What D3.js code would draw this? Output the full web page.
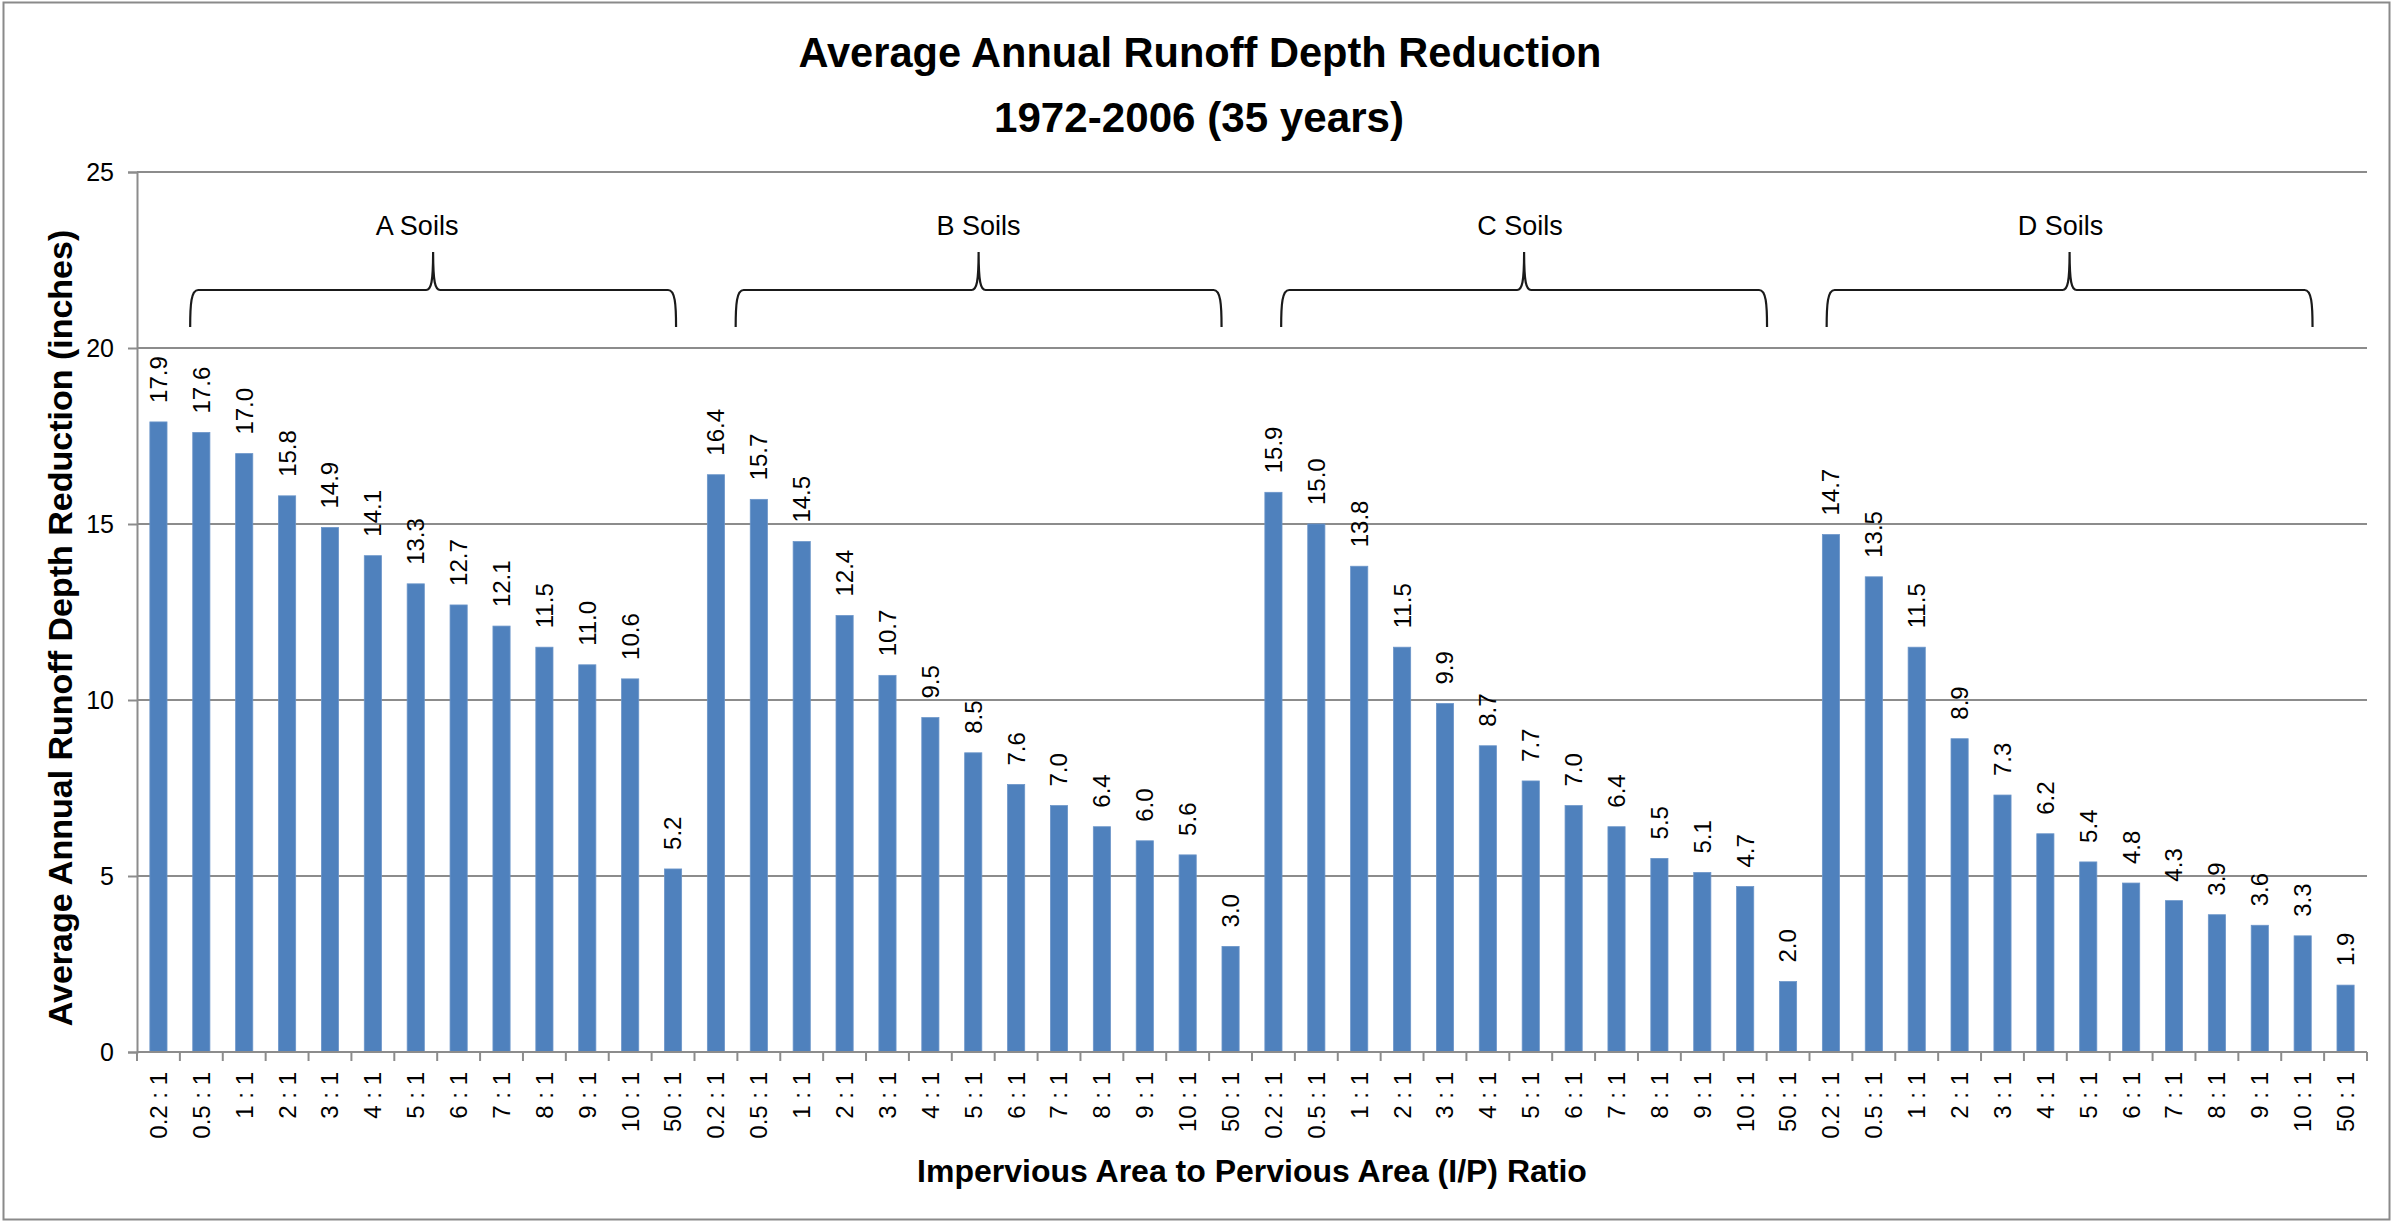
<!DOCTYPE html>
<html>
<head>
<meta charset="utf-8">
<script src="https://cdn.jsdelivr.net/npm/d3@7"></script>
<style>
  html, body { margin: 0; padding: 0; background: #fff; }
  svg { display: block; }
  text { font-family: "Liberation Sans", Arial, sans-serif; fill: #000; }
</style>
</head>
<body>
<svg id="chart" width="2394" height="1222"></svg>
<script>
// ---------------- data ----------------
const ratioLabels = ["0.2 : 1", "0.5 : 1", "1 : 1", "2 : 1", "3 : 1", "4 : 1", "5 : 1",
                     "6 : 1", "7 : 1", "8 : 1", "9 : 1", "10 : 1", "50 : 1"];
const soilGroups = ["A Soils", "B Soils", "C Soils", "D Soils"];
const soilA = [17.9, 17.6, 17.0, 15.8, 14.9, 14.1, 13.3, 12.7, 12.1, 11.5, 11.0, 10.6, 5.2];
const soilB = [16.4, 15.7, 14.5, 12.4, 10.7, 9.5, 8.5, 7.6, 7.0, 6.4, 6.0, 5.6, 3.0];
const soilC = [15.9, 15.0, 13.8, 11.5, 9.9, 8.7, 7.7, 7.0, 6.4, 5.5, 5.1, 4.7, 2.0];
const soilD = [14.7, 13.5, 11.5, 8.9, 7.3, 6.2, 5.4, 4.8, 4.3, 3.9, 3.6, 3.3, 1.9];
const yTicks = [0, 5, 10, 15, 20, 25];
const titleLines = ["Average Annual Runoff Depth Reduction", "1972-2006 (35 years)"];
const xTitle = "Impervious Area to Pervious Area (I/P) Ratio";
const yTitle = "Average Annual Runoff Depth Reduction (inches)";

// build flat table
const seriesValues = [soilA, soilB, soilC, soilD];
const rows = [];
seriesValues.forEach((vals, g) => {
  vals.forEach((v, i) => rows.push({ key: g + "|" + i, group: g, label: ratioLabels[i], value: v }));
});

// ---------------- layout ----------------
const W = 2394, H = 1222;
const plot = { left: 137, right: 2367, top: 172, bottom: 1052 };
const svg = d3.select("#chart");

svg.append("rect").attr("x", 0).attr("y", 0).attr("width", W).attr("height", H).attr("fill", "#fff");
svg.append("rect").attr("x", 3.5).attr("y", 2.5).attr("width", 2386).attr("height", 1217)
  .attr("fill", "none").attr("stroke", "#8a8a8a").attr("stroke-width", 2);

const x = d3.scaleBand().domain(rows.map(d => d.key))
  .range([plot.left, plot.right]).paddingInner(0.6).paddingOuter(0.3);
const y = d3.scaleLinear().domain([0, 25]).range([plot.bottom, plot.top]);
const step = x.step();

// gridlines
svg.append("g").selectAll("line").data(yTicks.filter(t => t > 0)).join("line")
  .attr("x1", plot.left).attr("x2", plot.right)
  .attr("y1", d => y(d)).attr("y2", d => y(d))
  .attr("stroke", "#8c8c8c").attr("stroke-width", 2);

// y axis
const yAxis = d3.axisLeft(y).tickValues(yTicks).tickSize(9).tickPadding(14).tickFormat(d3.format("d"));
const gy = svg.append("g").attr("transform", `translate(${plot.left},0)`).call(yAxis);
gy.select(".domain").attr("stroke", "#8c8c8c").attr("stroke-width", 2);
gy.selectAll(".tick line").attr("stroke", "#8c8c8c").attr("stroke-width", 2);
gy.selectAll(".tick text").attr("font-size", 25).attr("font-family", "'Liberation Sans', Arial, sans-serif").attr("fill", "#000");

// bars
svg.append("g").selectAll("rect").data(rows).join("rect")
  .attr("x", d => x(d.key)).attr("width", x.bandwidth())
  .attr("y", d => y(d.value)).attr("height", d => y(0) - y(d.value))
  .attr("fill", "#4F81BD").attr("stroke", "#6b95c9").attr("stroke-width", 0.8);

// value labels
svg.append("g").selectAll("text").data(rows).join("text")
  .attr("transform", d => `translate(${x(d.key) + x.bandwidth() / 2},${y(d.value) - 19}) rotate(-90)`)
  .attr("dy", "0.35em").attr("text-anchor", "start").attr("font-size", 24)
  .text(d => d3.format(".1f")(d.value));

// x axis (labels at band centres, ticks at band boundaries as in Excel)
const xAxis = d3.axisBottom(x).tickSize(0).tickPadding(0).tickFormat(k => rows.find(r => r.key === k).label);
const gx = svg.append("g").attr("transform", `translate(0,${plot.bottom})`).call(xAxis);
gx.select(".domain").remove();
gx.selectAll(".tick text")
  .attr("font-size", 24).attr("font-family", "'Liberation Sans', Arial, sans-serif").attr("fill", "#000")
  .attr("text-anchor", "end").attr("transform", "translate(0,20) rotate(-90)")
  .attr("x", 0).attr("y", 0).attr("dy", "0.35em");
svg.append("line").attr("x1", plot.left).attr("x2", plot.right)
  .attr("y1", plot.bottom).attr("y2", plot.bottom).attr("stroke", "#8c8c8c").attr("stroke-width", 2);
svg.append("g").selectAll("line").data(d3.range(rows.length + 1)).join("line")
  .attr("x1", i => plot.left + i * step).attr("x2", i => plot.left + i * step)
  .attr("y1", plot.bottom).attr("y2", plot.bottom + 9)
  .attr("stroke", "#8c8c8c").attr("stroke-width", 2);

// braces + group labels
const braceY = 290, braceBottom = 327, braceTop = 252;
const labelShift = [-16, 0, -4, -9];
soilGroups.forEach((name, g) => {
  const x0 = plot.left + (1.24 + g * 12.72) * step;
  const x1 = plot.left + (12.57 + g * 12.72) * step;
  const xm = (x0 + x1) / 2;
  const p = d3.path();
  p.moveTo(x0, braceBottom);
  p.bezierCurveTo(x0, braceY + 14, x0 + 1, braceY, x0 + 8, braceY);
  p.lineTo(xm - 7, braceY);
  p.bezierCurveTo(xm - 2, braceY, xm, braceY - 8, xm, braceTop);
  p.bezierCurveTo(xm, braceY - 8, xm + 2, braceY, xm + 7, braceY);
  p.lineTo(x1 - 8, braceY);
  p.bezierCurveTo(x1 - 1, braceY, x1, braceY + 14, x1, braceBottom);
  svg.append("path").attr("d", p.toString()).attr("fill", "none")
    .attr("stroke", "#1a1a1a").attr("stroke-width", 2.2);
  svg.append("text").attr("x", xm + labelShift[g]).attr("y", 235)
    .attr("text-anchor", "middle").attr("font-size", 27).text(name);
});

// titles
svg.append("text").attr("x", 1200).attr("y", 67).attr("text-anchor", "middle")
  .attr("font-size", 43).attr("font-weight", "bold")
  .attr("textLength", 803).attr("lengthAdjust", "spacingAndGlyphs").text(titleLines[0]);
svg.append("text").attr("x", 1199).attr("y", 132).attr("text-anchor", "middle")
  .attr("font-size", 43).attr("font-weight", "bold")
  .attr("textLength", 410).attr("lengthAdjust", "spacingAndGlyphs").text(titleLines[1]);

svg.append("text").attr("x", (plot.left + plot.right) / 2).attr("y", 1182)
  .attr("text-anchor", "middle").attr("font-size", 32).attr("font-weight", "bold").text(xTitle);

svg.append("text").attr("transform", `translate(60,628) rotate(-90)`)
  .attr("dy", "0.35em").attr("text-anchor", "middle")
  .attr("font-size", 34).attr("font-weight", "bold").text(yTitle);
</script>
</body>
</html>
